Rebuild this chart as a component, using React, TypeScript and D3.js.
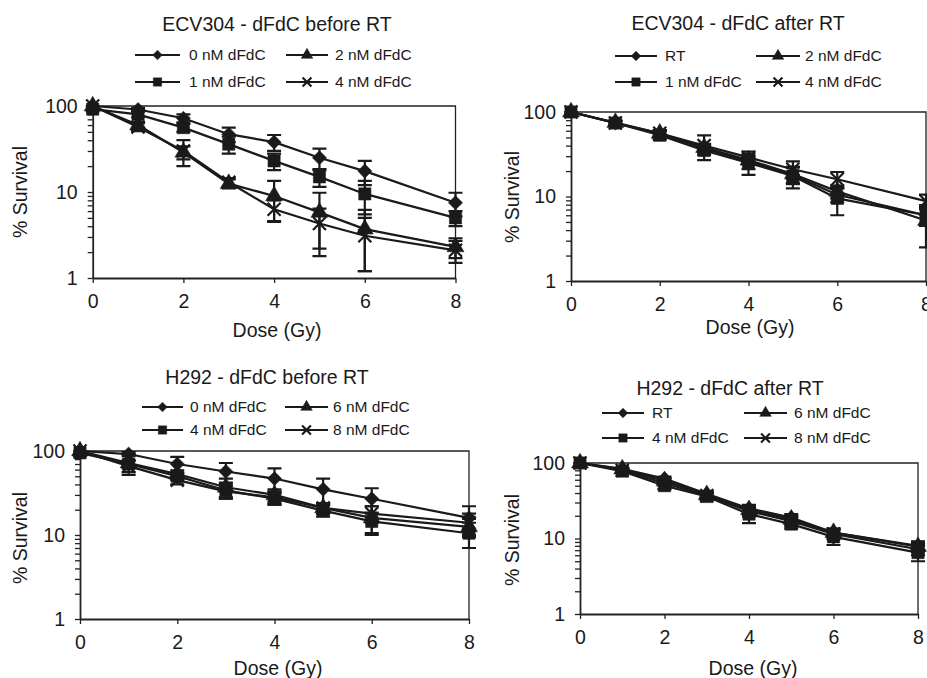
import { useEffect, useRef } from "react";
import * as d3 from "d3";

// Dose (Gy) values shared by every panel
const doses = [0, 1, 2, 3, 4, 5, 6, 8];
const xTicks = [0, 2, 4, 6, 8];
const yMajor = [1, 10, 100];

// ECV304 - dFdC before RT
const ecvBeforeNames = ["0 nM dFdC", "1 nM dFdC", "2 nM dFdC", "4 nM dFdC"];
const ecvBefore0 = [100, 91, 72, 47, 38, 25, 17.5, 7.5];
const ecvBefore0Err = [0, 4, 8, 9, 8, 7, 5.5, 2.3];
const ecvBefore1 = [92, 80, 56, 36, 23, 15, 9.5, 5];
const ecvBefore1Err = [0, 6, 6, 8, 5, 3.5, 4, 1];
const ecvBefore2 = [100, 60, 29, 12.5, 9, 5.8, 3.7, 2.3];
const ecvBefore2Err = [0, 5, 5, 1.5, 4.5, 4, 2.5, 0.6];
const ecvBefore4 = [100, 57, 30, 13, 6.3, 4.3, 3.1, 2.1];
const ecvBefore4Err = [0, 6, 10, 1.5, 1.7, 2.1, 1.9, 0.6];

// ECV304 - dFdC after RT
const ecvAfterNames = ["RT", "1 nM dFdC", "2 nM dFdC", "4 nM dFdC"];
const ecvAfterRT = [100, 74, 55, 37, 26, 18, 10.5, 6];
const ecvAfterRTErr = [0, 4, 5, 4, 8, 4, 2, 1.5];
const ecvAfter1 = [100, 74, 53, 35, 25, 17.5, 9.5, 6];
const ecvAfter1Err = [0, 5, 6, 4, 4, 5, 3.5, 1.5];
const ecvAfter2 = [100, 75, 56, 38, 27, 18.5, 11.5, 5.2];
const ecvAfter2Err = [0, 4, 5, 4, 3, 4, 2, 2.7];
const ecvAfter4 = [100, 74, 56, 40, 29, 21, 16, 8.8];
const ecvAfter4Err = [0, 4, 5, 13, 3, 5, 3.5, 1.7];

// H292 - dFdC before RT
const h292BeforeNames = ["0 nM dFdC", "4 nM dFdC", "6 nM dFdC", "8 nM dFdC"];
const h292Before0 = [100, 92, 70, 57, 47, 35, 27, 16];
const h292Before0Err = [0, 5, 15, 15, 15, 12, 9, 6];
const h292Before4 = [95, 70, 50, 34, 27, 19.5, 14.5, 10.5];
const h292Before4Err = [0, 8, 5, 7, 4, 3, 4, 3.5];
const h292Before6 = [100, 72, 53, 37, 30, 21, 16, 12.5];
const h292Before6Err = [0, 20, 6, 10, 5, 3, 6, 3];
const h292Before8 = [100, 66, 45, 33, 28, 21, 18, 14];
const h292Before8Err = [0, 10, 5, 5, 5, 3, 4, 4];

// H292 - dFdC after RT
const h292AfterNames = ["RT", "4 nM dFdC", "6 nM dFdC", "8 nM dFdC"];
const h292AfterRT = [100, 84, 62, 39, 25, 19, 12, 8];
const h292AfterRTErr = [0, 3, 4, 3, 3, 2, 1.5, 1.2];
const h292After4 = [100, 78, 50, 36, 21, 15.5, 10.5, 6.5];
const h292After4Err = [0, 4, 5, 4, 5, 2, 2.3, 1.5];
const h292After6 = [100, 83, 58, 38, 24, 18, 12, 7.8];
const h292After6Err = [0, 3, 4, 3, 3, 2, 1.5, 1.2];
const h292After8 = [100, 80, 54, 37, 23, 17, 11.5, 7.2];
const h292After8Err = [0, 3, 4, 3, 3, 2, 1.5, 1.2];

const markers = ["diamond", "square", "triangle", "x"];
const FONT = "'Liberation Sans', Arial, sans-serif";

function markerPath(kind: string, big: boolean) {
  const k = big ? 1 : 0.68;
  if (kind === "diamond") return d3.symbol(d3.symbolSquare, 100 * k * k)();
  if (kind === "square") return d3.symbol(d3.symbolSquare, 150 * k * k)();
  if (kind === "triangle") return d3.symbol(d3.symbolTriangle, 125 * k * k)();
  const s = 6.5 * k;
  return `M${-s},${-s}L${s},${s}M${-s},${s}L${s},${-s}`;
}

const panels = [
  {
    title: "ECV304 - dFdC before RT",
    names: ecvBeforeNames,
    values: [ecvBefore0, ecvBefore1, ecvBefore2, ecvBefore4],
    errors: [ecvBefore0Err, ecvBefore1Err, ecvBefore2Err, ecvBefore4Err],
    box: { left: 92.7, right: 455.5, top: 106, bottom: 278 },
    titlePos: [277, 24],
    legendCols: [[135, 180, 189], [286, 328, 335]],
    legendRows: [55, 82],
    yTitle: [20, 192],
    xTitle: [277, 330],
  },
  {
    title: "ECV304 - dFdC after RT",
    names: ecvAfterNames,
    values: [ecvAfterRT, ecvAfter1, ecvAfter2, ecvAfter4],
    errors: [ecvAfterRTErr, ecvAfter1Err, ecvAfter2Err, ecvAfter4Err],
    box: { left: 571, right: 926, top: 112, bottom: 281 },
    titlePos: [738, 23],
    legendCols: [[615, 657, 665], [756, 800, 805]],
    legendRows: [56, 82],
    yTitle: [512, 197],
    xTitle: [750, 327],
  },
  {
    title: "H292 - dFdC before RT",
    names: h292BeforeNames,
    values: [h292Before0, h292Before4, h292Before6, h292Before8],
    errors: [h292Before0Err, h292Before4Err, h292Before6Err, h292Before8Err],
    box: { left: 80, right: 469, top: 451, bottom: 619 },
    titlePos: [267, 377],
    legendCols: [[142, 183, 190], [285, 328, 333]],
    legendRows: [407, 430],
    yTitle: [20, 538],
    xTitle: [278, 668],
  },
  {
    title: "H292 - dFdC after RT",
    names: h292AfterNames,
    values: [h292AfterRT, h292After4, h292After6, h292After8],
    errors: [h292AfterRTErr, h292After4Err, h292After6Err, h292After8Err],
    box: { left: 580, right: 918, top: 463, bottom: 614 },
    titlePos: [730, 388],
    legendCols: [[602, 644, 652], [744, 787, 794]],
    legendRows: [413, 438],
    yTitle: [512, 540],
    xTitle: [753, 668],
  },
];

function drawMarker(g: any, kind: string, x: number, y: number, big: boolean) {
  const rot = kind === "diamond" ? " rotate(45)" : "";
  g.append("path")
    .attr("d", markerPath(kind, big))
    .attr("transform", `translate(${x},${y})${rot}`)
    .attr("fill", kind === "x" ? "none" : "#1a1a1a")
    .attr("stroke", "#1a1a1a")
    .attr("stroke-width", kind === "x" ? 2.2 : 0.5);
}

export default function App() {
  const ref = useRef<SVGSVGElement>(null);

  useEffect(() => {
    const svg = d3.select(ref.current);
    svg.selectAll("*").remove();

    panels.forEach((p) => {
      const g = svg.append("g");
      const x = d3.scaleLinear().domain([0, 8]).range([p.box.left, p.box.right]);
      const y = d3.scaleLog().domain([1, 100]).range([p.box.bottom, p.box.top]);

      // plot frame (top and right)
      g.append("path")
        .attr("d", `M${p.box.left},${p.box.top}H${p.box.right}V${p.box.bottom}`)
        .attr("fill", "none")
        .attr("stroke", "#222")
        .attr("stroke-width", 1.3);

      // y axis with log minor ticks
      const yTickVals: number[] = [];
      for (let d = 1; d < 100; d *= 10) for (let m = 1; m < 10; m++) yTickVals.push(d * m);
      yTickVals.push(100);
      const yAxis = g
        .append("g")
        .attr("transform", `translate(${p.box.left},0)`)
        .call(
          d3
            .axisLeft(y)
            .tickValues(yTickVals)
            .tickSize(5)
            .tickSizeOuter(0)
            .tickPadding(10)
            .tickFormat((d: any) => (yMajor.includes(+d) ? String(d) : ""))
        );
      yAxis.select(".domain").attr("stroke", "#222").attr("stroke-width", 1.8);
      yAxis.selectAll(".tick line").attr("stroke", "#222").attr("stroke-width", 1.3);
      yAxis.selectAll("text").attr("font-size", 19.5).attr("font-family", FONT).attr("fill", "#1a1a1a");

      const xAxis = g
        .append("g")
        .attr("transform", `translate(0,${p.box.bottom})`)
        .call(d3.axisBottom(x).tickValues(xTicks).tickSize(5).tickSizeOuter(0).tickPadding(11));
      xAxis.select(".domain").attr("stroke", "#222").attr("stroke-width", 1.8);
      xAxis.selectAll(".tick line").attr("stroke", "#222").attr("stroke-width", 1.3);
      xAxis.selectAll("text").attr("font-size", 19.5).attr("font-family", FONT).attr("fill", "#1a1a1a");

      // series lines
      const line = d3
        .line<number>()
        .x((_, i) => x(doses[i]))
        .y((v) => y(v));
      p.values.forEach((vals) => {
        g.append("path")
          .attr("d", line(vals))
          .attr("fill", "none")
          .attr("stroke", "#1a1a1a")
          .attr("stroke-width", 2.2);
      });

      // error bars
      p.values.forEach((vals, si) => {
        vals.forEach((v, i) => {
          const e = p.errors[si][i];
          if (!e) return;
          const cx = x(doses[i]);
          const lo = y(Math.max(v - e, 1));
          const hi = y(Math.min(v + e, 100));
          g.append("path")
            .attr("d", `M${cx},${hi}V${lo}M${cx - 7},${hi}H${cx + 7}M${cx - 7},${lo}H${cx + 7}`)
            .attr("fill", "none")
            .attr("stroke", "#1a1a1a")
            .attr("stroke-width", 2.2);
        });
      });

      // markers
      p.values.forEach((vals, si) => {
        vals.forEach((v, i) => drawMarker(g, markers[si], x(doses[i]), y(v), true));
      });

      // title
      g.append("text")
        .attr("x", p.titlePos[0])
        .attr("y", p.titlePos[1])
        .attr("dy", "0.35em")
        .attr("text-anchor", "middle")
        .attr("font-size", 19.5)
        .attr("font-family", FONT)
        .attr("fill", "#1a1a1a")
        .text(p.title);

      // legend, filled column by column
      p.names.forEach((name, si) => {
        const col = p.legendCols[si < 2 ? 0 : 1];
        const ly = p.legendRows[si % 2];
        g.append("line")
          .attr("x1", col[0])
          .attr("x2", col[1])
          .attr("y1", ly)
          .attr("y2", ly)
          .attr("stroke", "#1a1a1a")
          .attr("stroke-width", 2);
        drawMarker(g, markers[si], (col[0] + col[1]) / 2, ly, false);
        g.append("text")
          .attr("x", col[2])
          .attr("y", ly)
          .attr("dy", "0.35em")
          .attr("font-size", 15.5)
          .attr("font-family", FONT)
          .attr("fill", "#1a1a1a")
          .text(name);
      });

      // axis titles
      g.append("text")
        .attr("transform", `translate(${p.yTitle[0]},${p.yTitle[1]}) rotate(-90)`)
        .attr("dy", "0.35em")
        .attr("text-anchor", "middle")
        .attr("font-size", 19.5)
        .attr("font-family", FONT)
        .attr("fill", "#1a1a1a")
        .text("% Survival");
      g.append("text")
        .attr("x", p.xTitle[0])
        .attr("y", p.xTitle[1])
        .attr("dy", "0.35em")
        .attr("text-anchor", "middle")
        .attr("font-size", 19.5)
        .attr("font-family", FONT)
        .attr("fill", "#1a1a1a")
        .text("Dose (Gy)");
    });
  }, []);

  return (
    <svg
      ref={ref}
      width={927}
      height={678}
      style={{ position: "absolute", left: 0, top: 0, background: "#fff" }}
    />
  );
}
